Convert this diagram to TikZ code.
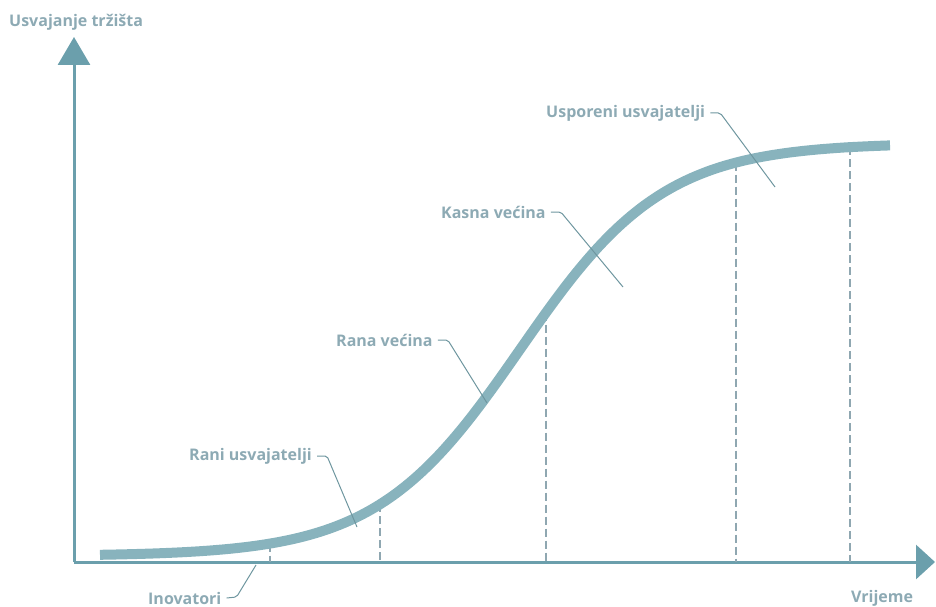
\documentclass[tikz,border=0pt]{standalone}
\usepackage{fontspec}
\setmainfont{Open Sans}
\usetikzlibrary{arrows.meta}

\definecolor{osi}{HTML}{6B9FAC}
\definecolor{kriv}{HTML}{88B3BD}
\definecolor{tekst}{HTML}{8DAAB4}
\definecolor{linija}{HTML}{6E969F}
\definecolor{crtica}{HTML}{8FA7B1}

\begin{document}
\begin{tikzpicture}[x=1pt,y=-1pt,
	declare function={usv(\x)=556-413/(1+exp(-(\x-520)/72));},
	os/.style={line width=3pt,color=osi},
	krivulja/.style={line width=10pt,color=kriv},
	natpis/.style={font=\bfseries\fontsize{16}{18}\selectfont,text=tekst,inner sep=2pt},
	veza/.style={line width=1pt,color=linija,rounded corners=2pt},
	granica/.style={line width=1.4pt,color=crtica,dash pattern=on 8pt off 4pt}]

\useasboundingbox (0,0) rectangle (936,607);

%osi
\coordinate (O) at (74,562);
\coordinate (Ytop) at (74,37);
\coordinate (Xend) at (935,562);
\draw[os,-{Triangle[width=32pt,length=28pt]}] (O) -- (Ytop);
\draw[os,-{Triangle[width=34pt,length=19pt]}] (O) -- (Xend);
\node[natpis,anchor=west] (usv) at (7,22) {Usvajanje tržišta};
\node[natpis,anchor=west] (vri) at (849,598) {Vrijeme};

%granice kategorija
\foreach \x [count=\i] in {270,380,546,736,850}{
	\coordinate (d\i) at (\x,{usv(\x)});
	\draw[granica] (d\i) -- (d\i |- O);
}

%krivulja
\draw[krivulja] plot[domain=100:890,samples=120,smooth] (\x,{usv(\x)});

%natpisi
\node[natpis,anchor=west] (ino) at (146,598) {Inovatori};
\node[natpis,anchor=west] (rani) at (187,456) {Rani usvajatelji};
\node[natpis,anchor=west] (rana) at (334,340) {Rana većina};
\node[natpis,anchor=west] (kasna) at (439,212) {Kasna većina};
\node[natpis,anchor=west] (uspo) at (544,113) {Usporeni usvajatelji};

\coordinate (inoK) at (256,565);
\coordinate (raniK) at (357,527);
\coordinate (ranaK) at (487,403);
\coordinate (kasnaK) at (623,287);
\coordinate (uspoK) at (775,187);

\draw[veza] (ino.east) ++(3,0) -- ++(10,-1) -- (inoK);
\draw[veza] (rani.east) ++(3,0) -- ++(10,0) -- (raniK);
\draw[veza] (rana.east) ++(3,0) -- ++(10,0) -- (ranaK);
\draw[veza] (kasna.east) ++(3,0) -- ++(10,0) -- (kasnaK);
\draw[veza] (uspo.east) ++(3,0) -- ++(10,0) -- (uspoK);

\end{tikzpicture}
\end{document}
